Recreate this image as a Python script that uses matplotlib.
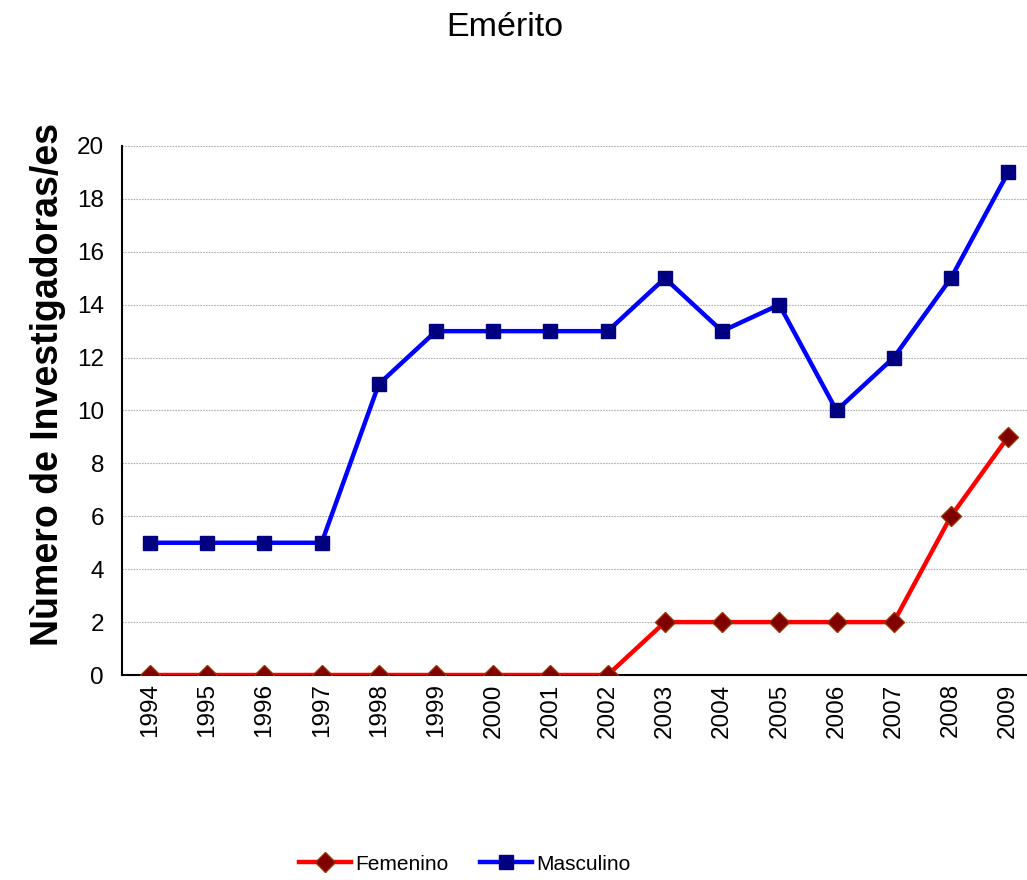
import matplotlib
matplotlib.use("Agg")
import matplotlib.pyplot as plt

plt.rcParams['font.family'] = ['Liberation Sans', 'DejaVu Sans']

years = ["1994", "1995", "1996", "1997", "1998", "1999", "2000", "2001",
         "2002", "2003", "2004", "2005", "2006", "2007", "2008", "2009"]
femenino = [0, 0, 0, 0, 0, 0, 0, 0, 0, 2, 2, 2, 2, 2, 6, 9]
masculino = [5, 5, 5, 5, 11, 13, 13, 13, 13, 15, 13, 14, 10, 12, 15, 19]

W, H = 1027, 880
fig = plt.figure(figsize=(W / 100, H / 100), dpi=100)
ax = fig.add_axes([122 / W, 1 - 675 / H, (W - 122) / W, (675 - 146) / H])

x = list(range(len(years)))
ax.plot(x, femenino, color='#ff0000', lw=3.2, marker='D', markersize=10,
        markerfacecolor='#800000', markeredgecolor='#993300', markeredgewidth=1,
        label='Femenino', zorder=3)
ax.plot(x, masculino, color='#0000ff', lw=3.2, marker='s', markersize=10,
        markerfacecolor='#000080', markeredgecolor='#000080', markeredgewidth=1,
        label='Masculino', zorder=3)

ax.set_xlim(-0.49, 15.33)
ax.set_ylim(0, 20)
ax.set_yticks(range(0, 21, 2))
ax.set_xticks(x)
ax.set_xticklabels(years, rotation=90)
ax.tick_params(axis='both', length=0, labelsize=17.5, pad=6)
ax.tick_params(axis='y', pad=13)
ax.grid(axis='y', color='#b0b0b0', linestyle=(0, (1.5, 1)), linewidth=0.8)
ax.set_axisbelow(True)
for s in ['top', 'right']:
    ax.spines[s].set_visible(False)
ax.spines['left'].set_linewidth(1.5)
ax.spines['bottom'].set_linewidth(1.5)

ax.set_ylabel('Nùmero de Investigadoras/es', fontsize=27, fontweight='bold',
              va='center', ha='center')
ax.yaxis.set_label_coords((48 - 122) / (W - 122), (675 - 385) / (675 - 146))
fig.text(505 / W, 1 - 28 / H, 'Emérito', fontsize=24.5, ha='center', va='center')

leg = fig.legend(loc='center', bbox_to_anchor=(465 / W, 1 - 864 / H), ncol=2,
                 frameon=False, fontsize=15, handlelength=2.5, columnspacing=1.5,
                 handletextpad=0.2)

fig.savefig('out.png', dpi=100)
